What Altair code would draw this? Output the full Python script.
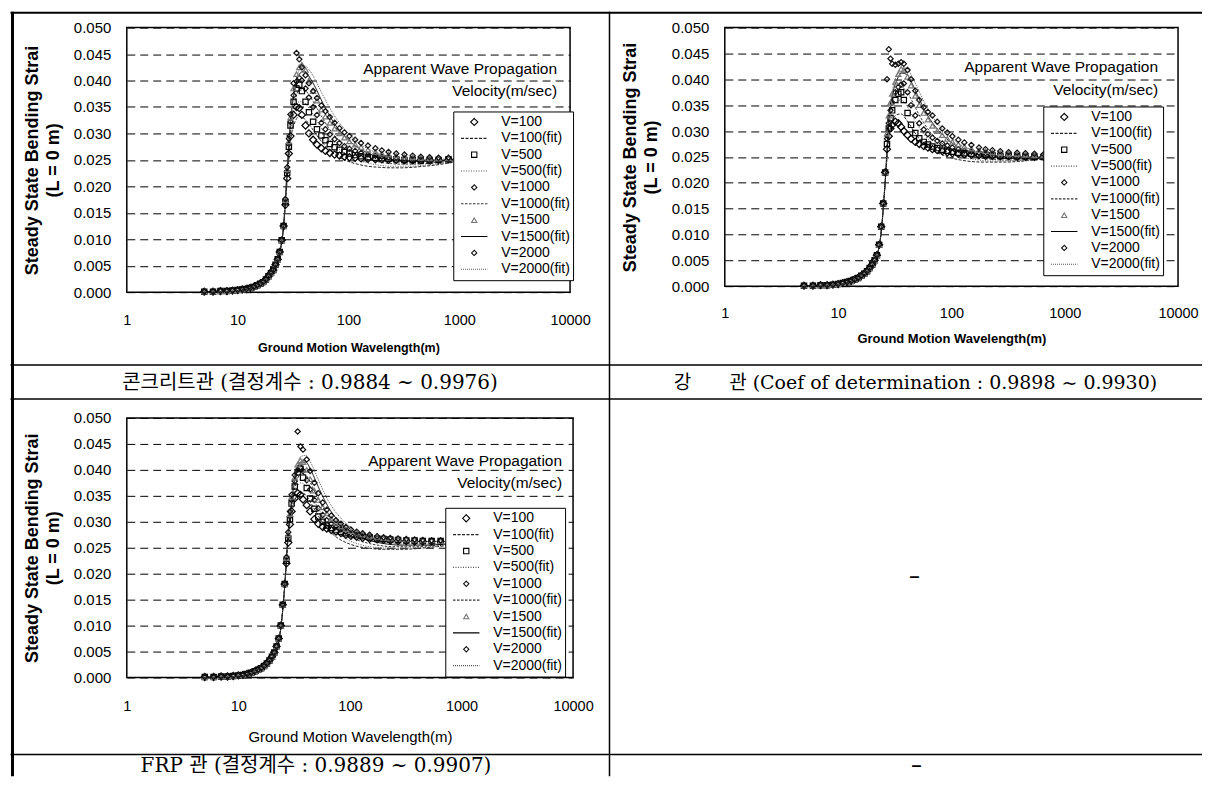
import altair as alt
import pandas as pd

SANS = "Liberation Sans, Arial, Helvetica, sans-serif"
CAPTION_FONT = "DejaVu Serif, Noto Sans CJK KR, serif"

# ---------------- legend / series definition ----------------
SERIES = ["V=100", "V=100(fit)", "V=500", "V=500(fit)", "V=1000", "V=1000(fit)",
          "V=1500", "V=1500(fit)", "V=2000", "V=2000(fit)"]
SHAPES = ["M-1.35,0L0,-1.35L1.35,0L0,1.35Z", "M-5,0L5,0", "square", "M-5,0L5,0", "diamond",
          "M-5,0L5,0", "triangle-up", "M-5,0L5,0", "diamond", "M-5,0L5,0"]
DASHES = [[1, 0], [3, 1.5], [1, 0], [1, 1.5], [1, 0], [2.5, 1.5], [1, 0], [1, 0], [1, 0], [1, 1]]
COLORS = ["#000000", "#222222", "#000000", "#555555", "#111111", "#333333",
          "#777777", "#000000", "#111111", "#555555"]

X_TICKS = [1, 10, 100, 1000, 10000]
Y_TICKS = [0.0, 0.005, 0.01, 0.015, 0.02, 0.025, 0.03, 0.035, 0.04, 0.045, 0.05]
X_TITLE = "Ground Motion Wavelength(m)"
Y_TITLE = ["Steady State Bending Strai", "(L = 0 m)"]
NOTE = ["Apparent Wave Propagation", "Velocity(m/sec)"]
CAPTIONS = ["콘크리트관 (결정계수 : 0.9884 ~ 0.9976)",
            "강\u3000\u3000관 (Coef of determination : 0.9898 ~ 0.9930)",
            "FRP 관 (결정계수 : 0.9889 ~ 0.9907)",
            "–", "–"]

# ---------------- wavelengths ----------------
W_LOW = [5, 6, 7, 8, 9, 10, 11, 12, 13, 14, 15, 16, 17, 18, 19, 20, 21, 22, 23, 24, 25, 26]
W_HIGH = [27, 28, 29, 30, 32, 34, 36, 38, 41, 44, 48, 52, 57, 62, 68, 75, 83, 92, 102, 115,
          130, 150, 175, 200, 230, 270, 320, 380, 450, 540, 650, 800, 1000]
W_FIT_LOW = [5, 8, 11, 14, 17, 20, 22, 24, 26]
W_FIT_HIGH = [28, 30, 33, 36, 40, 45, 50, 57, 65, 75, 88, 100, 120, 150, 190, 240, 300, 380,
              480, 600, 800, 1000]

# ---------------- concrete pipe ----------------
C1_LOW = [0.0001, 0.0001, 0.0002, 0.0002, 0.0003, 0.0004, 0.0005, 0.0006, 0.0008, 0.0010, 0.0013,
          0.0016, 0.0019, 0.0024, 0.0030, 0.0036, 0.0042, 0.0052, 0.0062, 0.0076, 0.0098, 0.0125]
C1_V100 = [0.0165, 0.0215, 0.0262, 0.0295, 0.0335, 0.0350, 0.0348, 0.0335, 0.0315, 0.0300, 0.0288,
           0.0279, 0.0272, 0.0267, 0.0263, 0.0260, 0.0258, 0.0256, 0.0255, 0.0254, 0.0253, 0.0252,
           0.0251, 0.0251, 0.0250, 0.0250, 0.0249, 0.0249, 0.0249, 0.0249, 0.0250, 0.0251, 0.0252]
C1_V500 = [0.0170, 0.0225, 0.0275, 0.0315, 0.0360, 0.0385, 0.0392, 0.0380, 0.0360, 0.0340, 0.0322,
           0.0308, 0.0296, 0.0287, 0.0280, 0.0274, 0.0269, 0.0265, 0.0262, 0.0259, 0.0257, 0.0255,
           0.0254, 0.0253, 0.0252, 0.0251, 0.0250, 0.0250, 0.0249, 0.0249, 0.0250, 0.0251, 0.0252]
C1_V1000 = [0.0172, 0.0228, 0.0280, 0.0322, 0.0372, 0.0398, 0.0405, 0.0400, 0.0385, 0.0368, 0.0350,
            0.0335, 0.0320, 0.0308, 0.0298, 0.0289, 0.0282, 0.0276, 0.0271, 0.0267, 0.0263, 0.0260,
            0.0258, 0.0256, 0.0255, 0.0254, 0.0253, 0.0252, 0.0251, 0.0251, 0.0251, 0.0252, 0.0253]
C1_V1500 = [0.0174, 0.0232, 0.0285, 0.0330, 0.0385, 0.0412, 0.0425, 0.0430, 0.0420, 0.0400, 0.0380,
            0.0362, 0.0345, 0.0332, 0.0320, 0.0309, 0.0300, 0.0292, 0.0285, 0.0279, 0.0274, 0.0269,
            0.0265, 0.0262, 0.0260, 0.0258, 0.0256, 0.0255, 0.0254, 0.0253, 0.0253, 0.0253, 0.0254]
C1_V2000 = [0.0176, 0.0236, 0.0290, 0.0336, 0.0395, 0.0452, 0.0440, 0.0425, 0.0410, 0.0395, 0.0380,
            0.0367, 0.0353, 0.0342, 0.0331, 0.0320, 0.0310, 0.0302, 0.0295, 0.0288, 0.0282, 0.0277,
            0.0272, 0.0268, 0.0265, 0.0262, 0.0260, 0.0258, 0.0256, 0.0255, 0.0254, 0.0254, 0.0255]
C1_FIT_LOW = [0.0000, 0.0001, 0.0004, 0.0009, 0.0019, 0.0035, 0.0050, 0.0075, 0.0125]
C1_F100 = [0.0210, 0.0285, 0.0322, 0.0332, 0.0328, 0.0315, 0.0301, 0.0285, 0.0272, 0.0261, 0.0252,
           0.0247, 0.0242, 0.0238, 0.0236, 0.0235, 0.0235, 0.0236, 0.0238, 0.0240, 0.0244, 0.0247]
C1_F500 = [0.0220, 0.0300, 0.0345, 0.0360, 0.0358, 0.0345, 0.0330, 0.0310, 0.0293, 0.0278, 0.0266,
           0.0258, 0.0250, 0.0244, 0.0240, 0.0238, 0.0238, 0.0238, 0.0240, 0.0242, 0.0245, 0.0248]
C1_F1000 = [0.0226, 0.0310, 0.0362, 0.0382, 0.0382, 0.0370, 0.0354, 0.0333, 0.0313, 0.0296, 0.0281,
            0.0271, 0.0260, 0.0251, 0.0246, 0.0243, 0.0242, 0.0242, 0.0243, 0.0245, 0.0247, 0.0250]
C1_F1500 = [0.0232, 0.0322, 0.0385, 0.0412, 0.0418, 0.0405, 0.0388, 0.0363, 0.0340, 0.0318, 0.0300,
            0.0288, 0.0274, 0.0263, 0.0255, 0.0250, 0.0248, 0.0247, 0.0247, 0.0248, 0.0250, 0.0252]
C1_F2000 = [0.0234, 0.0326, 0.0390, 0.0420, 0.0428, 0.0418, 0.0402, 0.0378, 0.0355, 0.0333, 0.0313,
            0.0300, 0.0284, 0.0271, 0.0262, 0.0256, 0.0253, 0.0251, 0.0251, 0.0251, 0.0252, 0.0254]

# ---------------- steel pipe ----------------
C2_LOW = [0.0001, 0.0001, 0.0002, 0.0002, 0.0003, 0.0004, 0.0006, 0.0008, 0.0010, 0.0013, 0.0016,
          0.0020, 0.0024, 0.0029, 0.0035, 0.0042, 0.0050, 0.0060, 0.0080, 0.0115, 0.0160, 0.0220]
C2_V100 = [0.0265, 0.0290, 0.0305, 0.0312, 0.0318, 0.0315, 0.0308, 0.0300, 0.0292, 0.0285, 0.0279,
           0.0275, 0.0271, 0.0268, 0.0265, 0.0263, 0.0261, 0.0259, 0.0257, 0.0256, 0.0255, 0.0254,
           0.0253, 0.0252, 0.0252, 0.0251, 0.0251, 0.0250, 0.0250, 0.0250, 0.0250, 0.0251, 0.0252]
C2_V500 = [0.0275, 0.0305, 0.0325, 0.0340, 0.0360, 0.0372, 0.0375, 0.0360, 0.0335, 0.0312, 0.0296,
           0.0286, 0.0279, 0.0274, 0.0270, 0.0267, 0.0264, 0.0262, 0.0260, 0.0258, 0.0257, 0.0256,
           0.0255, 0.0254, 0.0253, 0.0252, 0.0252, 0.0251, 0.0251, 0.0250, 0.0250, 0.0251, 0.0252]
C2_V1000 = [0.0285, 0.0315, 0.0340, 0.0355, 0.0375, 0.0385, 0.0390, 0.0392, 0.0375, 0.0350, 0.0330,
            0.0315, 0.0303, 0.0294, 0.0287, 0.0281, 0.0276, 0.0272, 0.0268, 0.0265, 0.0262, 0.0260,
            0.0258, 0.0257, 0.0256, 0.0255, 0.0254, 0.0253, 0.0252, 0.0252, 0.0251, 0.0251, 0.0252]
C2_V1500 = [0.0295, 0.0330, 0.0355, 0.0372, 0.0395, 0.0410, 0.0420, 0.0418, 0.0405, 0.0388, 0.0368,
            0.0350, 0.0335, 0.0322, 0.0310, 0.0300, 0.0292, 0.0285, 0.0279, 0.0274, 0.0270, 0.0266,
            0.0263, 0.0261, 0.0259, 0.0257, 0.0256, 0.0255, 0.0254, 0.0253, 0.0253, 0.0253, 0.0253]
C2_V2000 = [0.0400, 0.0458, 0.0440, 0.0430, 0.0428, 0.0430, 0.0433, 0.0430, 0.0418, 0.0400, 0.0378,
            0.0360, 0.0346, 0.0337, 0.0330, 0.0318, 0.0305, 0.0297, 0.0290, 0.0283, 0.0278, 0.0273,
            0.0268, 0.0265, 0.0263, 0.0261, 0.0259, 0.0258, 0.0257, 0.0256, 0.0255, 0.0255, 0.0255]
C2_FIT_LOW = [0.0000, 0.0002, 0.0005, 0.0012, 0.0023, 0.0040, 0.0058, 0.0105, 0.0200]
C2_F100 = [0.0285, 0.0318, 0.0332, 0.0333, 0.0322, 0.0305, 0.0290, 0.0276, 0.0266, 0.0258, 0.0252,
           0.0248, 0.0244, 0.0241, 0.0240, 0.0240, 0.0240, 0.0241, 0.0243, 0.0245, 0.0248, 0.0250]
C2_F500 = [0.0300, 0.0340, 0.0358, 0.0360, 0.0350, 0.0330, 0.0312, 0.0294, 0.0280, 0.0269, 0.0261,
           0.0256, 0.0250, 0.0246, 0.0243, 0.0242, 0.0242, 0.0243, 0.0244, 0.0246, 0.0249, 0.0251]
C2_F1000 = [0.0310, 0.0355, 0.0378, 0.0385, 0.0378, 0.0358, 0.0338, 0.0316, 0.0298, 0.0284, 0.0272,
            0.0265, 0.0257, 0.0251, 0.0247, 0.0245, 0.0244, 0.0244, 0.0245, 0.0247, 0.0249, 0.0251]
C2_F1500 = [0.0320, 0.0368, 0.0398, 0.0412, 0.0410, 0.0392, 0.0370, 0.0344, 0.0322, 0.0304, 0.0288,
            0.0278, 0.0267, 0.0258, 0.0252, 0.0249, 0.0247, 0.0247, 0.0247, 0.0248, 0.0250, 0.0252]
C2_F2000 = [0.0325, 0.0375, 0.0408, 0.0422, 0.0422, 0.0405, 0.0384, 0.0358, 0.0335, 0.0315, 0.0298,
            0.0287, 0.0274, 0.0264, 0.0257, 0.0253, 0.0250, 0.0249, 0.0249, 0.0250, 0.0251, 0.0253]

# ---------------- FRP pipe ----------------
C3_LOW = [0.0001, 0.0001, 0.0002, 0.0002, 0.0003, 0.0004, 0.0005, 0.0007, 0.0009, 0.0012, 0.0015,
          0.0018, 0.0022, 0.0027, 0.0033, 0.0040, 0.0048, 0.0060, 0.0075, 0.0100, 0.0140, 0.0180]
C3_V100 = [0.0220, 0.0260, 0.0295, 0.0320, 0.0345, 0.0355, 0.0352, 0.0343, 0.0332, 0.0320, 0.0305,
           0.0296, 0.0290, 0.0287, 0.0284, 0.0281, 0.0278, 0.0275, 0.0273, 0.0271, 0.0269, 0.0267,
           0.0266, 0.0265, 0.0264, 0.0263, 0.0263, 0.0262, 0.0262, 0.0262, 0.0262, 0.0262, 0.0263]
C3_V500 = [0.0225, 0.0268, 0.0305, 0.0335, 0.0368, 0.0395, 0.0402, 0.0385, 0.0365, 0.0345, 0.0325,
           0.0310, 0.0300, 0.0293, 0.0288, 0.0284, 0.0281, 0.0278, 0.0276, 0.0274, 0.0272, 0.0270,
           0.0268, 0.0267, 0.0266, 0.0265, 0.0264, 0.0264, 0.0263, 0.0263, 0.0263, 0.0263, 0.0264]
C3_V1000 = [0.0228, 0.0272, 0.0310, 0.0342, 0.0378, 0.0400, 0.0405, 0.0398, 0.0380, 0.0362, 0.0342,
            0.0326, 0.0313, 0.0303, 0.0296, 0.0290, 0.0285, 0.0281, 0.0278, 0.0276, 0.0274, 0.0271,
            0.0269, 0.0268, 0.0267, 0.0266, 0.0265, 0.0264, 0.0264, 0.0263, 0.0263, 0.0263, 0.0264]
C3_V1500 = [0.0230, 0.0276, 0.0315, 0.0348, 0.0385, 0.0410, 0.0418, 0.0415, 0.0400, 0.0382, 0.0360,
            0.0342, 0.0328, 0.0316, 0.0306, 0.0298, 0.0291, 0.0286, 0.0282, 0.0279, 0.0276, 0.0273,
            0.0271, 0.0269, 0.0268, 0.0267, 0.0266, 0.0265, 0.0264, 0.0264, 0.0263, 0.0263, 0.0264]
C3_V2000 = [0.0232, 0.0280, 0.0320, 0.0352, 0.0390, 0.0474, 0.0445, 0.0439, 0.0420, 0.0398, 0.0375,
            0.0355, 0.0337, 0.0323, 0.0312, 0.0303, 0.0296, 0.0290, 0.0285, 0.0281, 0.0278, 0.0275,
            0.0272, 0.0270, 0.0269, 0.0268, 0.0267, 0.0266, 0.0265, 0.0264, 0.0264, 0.0264, 0.0264]
C3_FIT_LOW = [0.0000, 0.0001, 0.0004, 0.0010, 0.0021, 0.0038, 0.0055, 0.0095, 0.0175]
C3_F100 = [0.0270, 0.0315, 0.0348, 0.0357, 0.0352, 0.0335, 0.0318, 0.0298, 0.0283, 0.0271, 0.0262,
           0.0257, 0.0252, 0.0249, 0.0247, 0.0247, 0.0247, 0.0248, 0.0250, 0.0252, 0.0255, 0.0258]
C3_F500 = [0.0275, 0.0325, 0.0362, 0.0375, 0.0370, 0.0352, 0.0333, 0.0312, 0.0295, 0.0281, 0.0270,
           0.0263, 0.0257, 0.0252, 0.0250, 0.0249, 0.0249, 0.0250, 0.0251, 0.0253, 0.0256, 0.0259]
C3_F1000 = [0.0278, 0.0332, 0.0375, 0.0392, 0.0390, 0.0372, 0.0352, 0.0328, 0.0309, 0.0293, 0.0280,
            0.0272, 0.0264, 0.0258, 0.0254, 0.0252, 0.0252, 0.0252, 0.0253, 0.0255, 0.0257, 0.0260]
C3_F1500 = [0.0282, 0.0340, 0.0392, 0.0415, 0.0415, 0.0398, 0.0376, 0.0349, 0.0326, 0.0307, 0.0292,
            0.0282, 0.0272, 0.0264, 0.0259, 0.0256, 0.0255, 0.0255, 0.0255, 0.0256, 0.0258, 0.0261]
C3_F2000 = [0.0284, 0.0345, 0.0400, 0.0425, 0.0428, 0.0412, 0.0390, 0.0362, 0.0338, 0.0318, 0.0301,
            0.0290, 0.0278, 0.0269, 0.0263, 0.0259, 0.0257, 0.0257, 0.0257, 0.0258, 0.0259, 0.0262]


def points_frame(low, series_map):
    rows = []
    for name, high in series_map.items():
        for w, v in zip(W_LOW + W_HIGH, low + high):
            rows.append({"wavelength": w, "value": v, "series": name})
    return pd.DataFrame(rows)


def fits_frame(low, series_map):
    rows = []
    for name, high in series_map.items():
        for w, v in zip(W_FIT_LOW + W_FIT_HIGH, low + high):
            rows.append({"wavelength": w, "value": v, "series": name})
    return pd.DataFrame(rows)


ONE = pd.DataFrame({"k": [0]})


def hrule(x1, x2, y, sw=1.5):
    return alt.Chart(ONE).mark_rule(color="black", strokeWidth=sw).encode(
        x=alt.value(x1), x2=alt.value(x2), y=alt.value(y))


def vrule(x, y1, y2, sw=1.5):
    return alt.Chart(ONE).mark_rule(color="black", strokeWidth=sw).encode(
        x=alt.value(x), y=alt.value(y1), y2=alt.value(y2))


def label(x, y, s, size, font, align="center", weight="normal"):
    return alt.Chart(ONE).mark_text(align=align, baseline="middle", fontSize=size, font=font,
                                    fontWeight=weight, color="black").encode(
        x=alt.value(x), y=alt.value(y), text=alt.value(s))


def panel(pts, fits, w, h, leg, note, xt, decor):
    legend = alt.Legend(title=None, orient="none", legendX=leg[0], legendY=leg[1],
                        fillColor="white", strokeColor="black", padding=3, clipHeight=15,
                        rowPadding=1.4, labelFont=SANS, labelFontSize=14, labelColor="black",
                        symbolSize=28, symbolStrokeWidth=1.1, symbolOffset=11, labelOffset=20)
    x_enc = alt.X("wavelength:Q", scale=alt.Scale(type="log", domain=[1, 10000]),
                  axis=alt.Axis(values=X_TICKS, format="d", title=X_TITLE, titleFont=SANS,
                                titleFontSize=xt["size"], titleFontWeight=xt["weight"],
                                titlePadding=xt["tpad"], labelFont=SANS, labelFontSize=14.5,
                                labelPadding=xt["lpad"], labelFlush=False, ticks=False,
                                domain=False, grid=False, labelColor="black", titleColor="black"))
    y_enc = alt.Y("value:Q", scale=alt.Scale(domain=[0, 0.05]),
                  axis=alt.Axis(values=Y_TICKS, format=".3f", title=Y_TITLE, titleFont=SANS,
                                titleFontSize=18, titleFontWeight="bold", titleLineHeight=21,
                                titlePadding=11, labelFont=SANS, labelFontSize=15, labelPadding=16,
                                labelFlush=False, ticks=False, domain=False, grid=True,
                                gridColor="black", gridDash=[8, 5], gridWidth=1, gridOpacity=1,
                                labelColor="black", titleColor="black"))
    color = alt.Color("series:N", scale=alt.Scale(domain=SERIES, range=COLORS), legend=legend)
    lines = alt.Chart(fits).mark_line(strokeWidth=1, interpolate="monotone").encode(
        x=x_enc, y=y_enc, color=color,
        strokeDash=alt.StrokeDash("series:N", scale=alt.Scale(domain=SERIES, range=DASHES),
                                  legend=legend))
    points = alt.Chart(pts).mark_point(filled=False, size=28, strokeWidth=1.2, opacity=1).encode(
        x=x_enc, y=y_enc, color=color,
        shape=alt.Shape("series:N", scale=alt.Scale(domain=SERIES, range=SHAPES), legend=legend))
    notes = [label(note[0], note[1], NOTE[0], 15.5, SANS, align="right"),
             label(note[0], note[2], NOTE[1], 15.5, SANS, align="right")]
    return alt.layer(lines, points, *notes, *decor).properties(width=w, height=h)


# concrete (top-left), plot origin on page ~ (123.5, 24)
c1 = panel(
    points_frame(C1_LOW, {"V=100": C1_V100, "V=500": C1_V500, "V=1000": C1_V1000,
                          "V=1500": C1_V1500, "V=2000": C1_V2000}),
    fits_frame(C1_FIT_LOW, {"V=100(fit)": C1_F100, "V=500(fit)": C1_F500, "V=1000(fit)": C1_F1000,
                            "V=1500(fit)": C1_F1500, "V=2000(fit)": C1_F2000}),
    444, 265, (327, 84), (431, 41, 64),
    {"size": 12.5, "weight": "bold", "tpad": 15, "lpad": 21},
    [hrule(-116.5, 483.5, -15, 2), vrule(-114.5, -16, 372, 3), hrule(-116.5, 483.5, 338),
     label(183.5, 356, CAPTIONS[0], 20, CAPTION_FONT)])

# steel (top-right), plot origin on page ~ (722, 24)
c2 = panel(
    points_frame(C2_LOW, {"V=100": C2_V100, "V=500": C2_V500, "V=1000": C2_V1000,
                          "V=1500": C2_V1500, "V=2000": C2_V2000}),
    fits_frame(C2_FIT_LOW, {"V=100(fit)": C2_F100, "V=500(fit)": C2_F500, "V=1000(fit)": C2_F1000,
                            "V=1500(fit)": C2_F1500, "V=2000(fit)": C2_F2000}),
    454, 259, (319, 79), (434, 39, 63),
    {"size": 13, "weight": "bold", "tpad": 13, "lpad": 20},
    [hrule(-116, 478, -15, 2), vrule(-115.5, -16, 372), hrule(-116, 478, 338),
     label(191, 356, CAPTIONS[1], 19, CAPTION_FONT)])

# FRP (bottom-left), plot origin on page ~ (123.5, 415)
c3 = panel(
    points_frame(C3_LOW, {"V=100": C3_V100, "V=500": C3_V500, "V=1000": C3_V1000,
                          "V=1500": C3_V1500, "V=2000": C3_V2000}),
    fits_frame(C3_FIT_LOW, {"V=100(fit)": C3_F100, "V=500(fit)": C3_F500, "V=1000(fit)": C3_F1000,
                            "V=1500(fit)": C3_F1500, "V=2000(fit)": C3_F2000}),
    447, 260, (319, 90), (436, 43, 65),
    {"size": 15, "weight": "normal", "tpad": 17, "lpad": 22},
    [hrule(-116.5, 483.5, -19), vrule(-114.5, -19, 359, 3), hrule(-116.5, 483.5, 337),
     label(189.5, 349, CAPTIONS[2], 20, CAPTION_FONT)])

# empty (bottom-right)
c4 = alt.layer(
    hrule(-116, 478, -19), vrule(-115.5, -19, 359), hrule(-116, 478, 337),
    label(190, 159, CAPTIONS[3], 18, SANS, weight="bold"),
    label(192, 349, CAPTIONS[4], 18, SANS, weight="bold"),
).properties(width=454, height=260, view=alt.ViewBackground(stroke="transparent"))

chart = alt.concat(
    c1, c2, c3, c4, columns=2, spacing={"row": 126, "column": 152},
    bounds="flush", align="each",
).resolve_scale(
    color="independent", shape="independent", strokeDash="independent"
).properties(padding=0).configure(background="white").configure_view(
    stroke="black", strokeWidth=1.5)

chart.save("out.html", embed_options={"renderer": "svg", "actions": False})
